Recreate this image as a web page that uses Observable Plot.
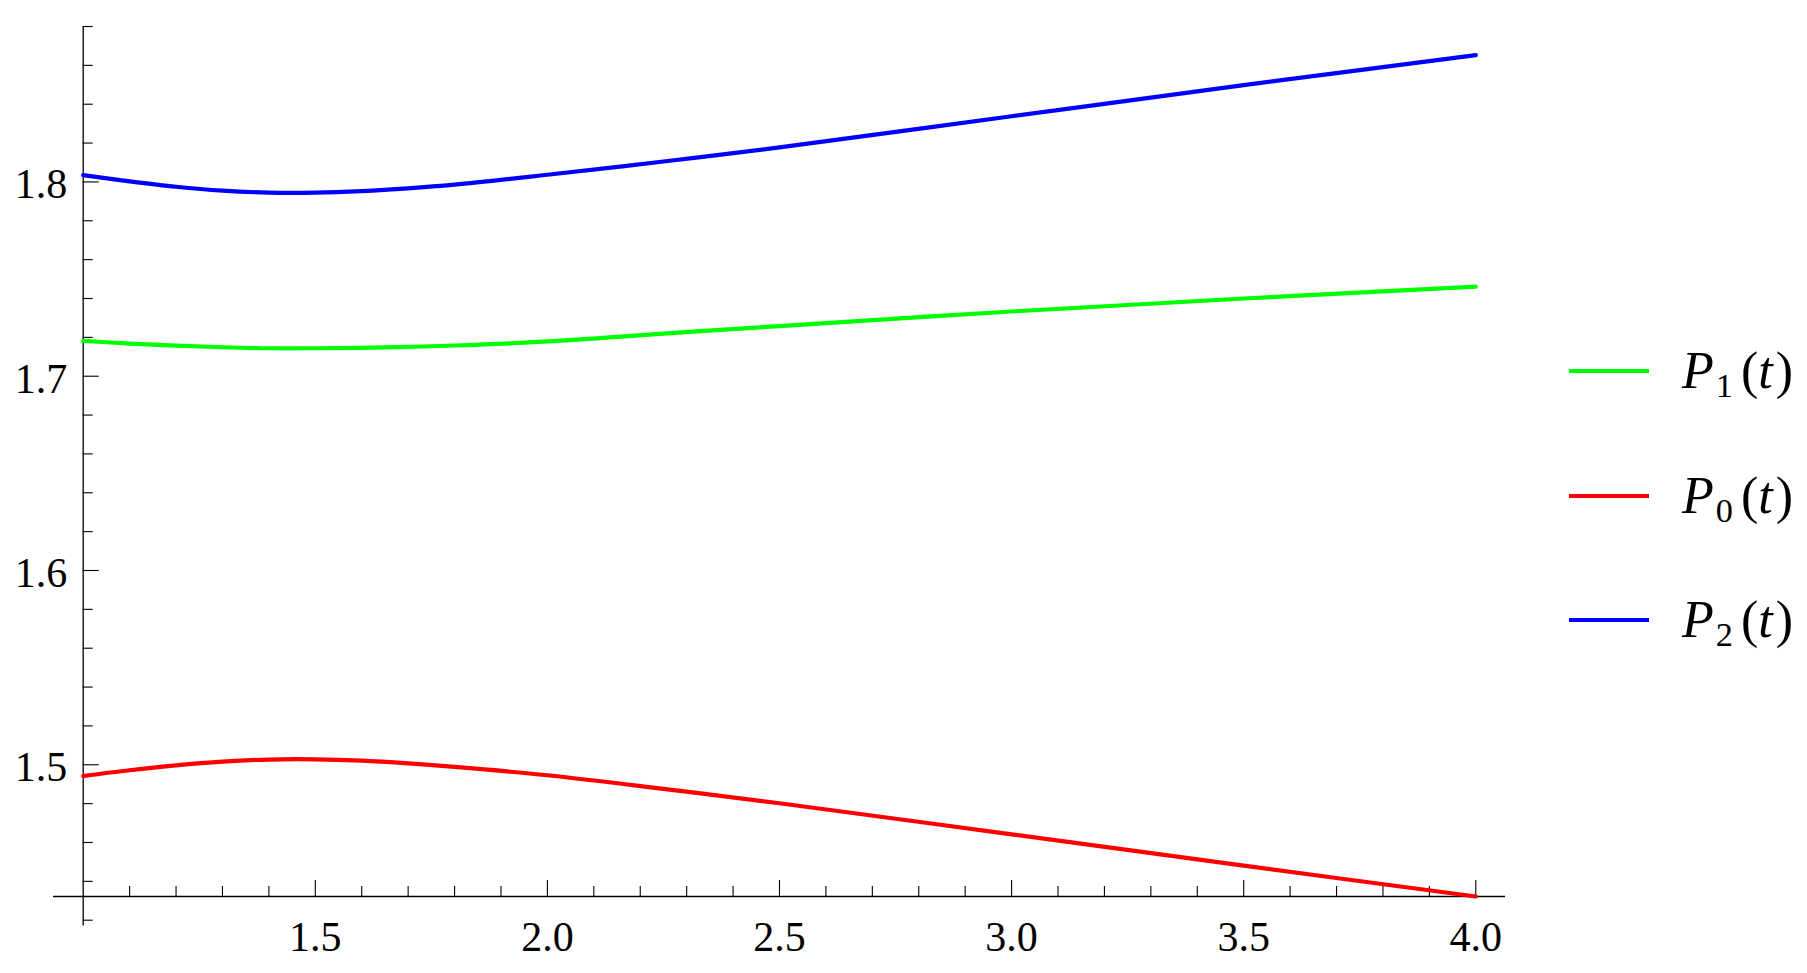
<!DOCTYPE html>
<html>
<head>
<meta charset="utf-8">
<script src="https://cdn.jsdelivr.net/npm/d3@7"></script>
<script src="https://cdn.jsdelivr.net/npm/@observablehq/plot@0.6"></script>
<style>
  html, body { margin: 0; padding: 0; background: #fff; overflow: hidden; width: 1807px; height: 973px; }
  #wrap { position: relative; width: 1807px; height: 973px; }
  .leg { position: absolute; left: 1569px; height: 60px; display: flex; align-items: center;
         font-family: "Liberation Serif", "DejaVu Serif", serif; font-size: 52px; line-height: 1; color: #000; }
  .leg .swatch { width: 80px; height: 4px; }
  .leg .txt { margin-left: 33px; white-space: nowrap; }
  .leg i { font-style: italic; }
  .leg .sub { position: relative; top: 0.26em; font-size: 0.66em; margin-left: 2px; }
  .leg .lp { margin-left: 8px; }
  .leg .rp { margin-left: 3px; }
</style>
</head>
<body>
<div id="wrap"></div>
<script>
// ---- data ----
const tValues  = [1.0, 1.1, 1.2, 1.3, 1.4, 1.5, 1.6, 1.7, 1.8, 2.0, 2.25, 2.5, 3.0, 3.5, 4.0];
const p0Values = [1.4942, 1.4972, 1.4997, 1.5016, 1.5027, 1.5028, 1.5021, 1.5007, 1.4989, 1.4946, 1.4876, 1.4802, 1.4642, 1.4481, 1.4322];
const p1Values = [1.7182, 1.7168, 1.7157, 1.7149, 1.7144, 1.7144, 1.7146, 1.7151, 1.7158, 1.7179, 1.7219, 1.7258, 1.7333, 1.7400, 1.7461];
const p2Values = [1.8035, 1.8003, 1.7975, 1.7955, 1.7945, 1.7945, 1.7953, 1.7967, 1.7986, 1.8037, 1.8105, 1.8178, 1.8338, 1.8498, 1.8653];

const seriesNames  = ["P1", "P0", "P2"];          // legend order
const seriesColors = { P0: "#ff0000", P1: "#00ff00", P2: "#0000ff" };
const seriesSubs   = { P0: "0", P1: "1", P2: "2" };

const xMajorTicks = [1.5, 2.0, 2.5, 3.0, 3.5, 4.0];
const xMinorTicks = [1.1, 1.2, 1.3, 1.4, 1.6, 1.7, 1.8, 1.9, 2.1, 2.2, 2.3, 2.4, 2.6, 2.7, 2.8, 2.9,
                     3.1, 3.2, 3.3, 3.4, 3.6, 3.7, 3.8, 3.9];
const yMajorTicks = [1.5, 1.6, 1.7, 1.8];
const yMinorTicks = [1.42, 1.44, 1.46, 1.48, 1.52, 1.54, 1.56, 1.58, 1.62, 1.64, 1.66, 1.68,
                     1.72, 1.74, 1.76, 1.78, 1.82, 1.84, 1.86, 1.88];

// axis geometry (data units)
const xOrigin = 1.0;            // where the vertical axis sits
const yOrigin = 1.4322;         // where the horizontal axis sits
const xAxisExtent = [0.936, 4.064];
const yAxisExtent = [1.417, 1.88];

// ---- build table ----
const rows = [];
tValues.forEach((t, i) => {
  rows.push({ t, v: p0Values[i], s: "P0" });
  rows.push({ t, v: p1Values[i], s: "P1" });
  rows.push({ t, v: p2Values[i], s: "P2" });
});

const font = "Liberation Serif";

const chart = Plot.plot({
  width: 1807,
  height: 973,
  marginLeft: 82.7,
  marginRight: 331.7,
  marginTop: 26,
  marginBottom: 77,
  style: { background: "white" },
  x: { domain: [1, 4], axis: null },
  y: { domain: [yOrigin, yAxisExtent[1]], axis: null },
  marks: [
    // axes lines
    Plot.ruleY([yOrigin], { x1: xAxisExtent[0], x2: xAxisExtent[1], stroke: "black", strokeWidth: 1.3 }),
    Plot.ruleX([xOrigin], { y1: yAxisExtent[0], y2: yAxisExtent[1], stroke: "black", strokeWidth: 1.3 }),
    // x ticks (pointing up)
    Plot.ruleX(xMinorTicks, { x: d => d, y1: yOrigin, y2: yOrigin, insetTop: -10, stroke: "black", strokeWidth: 1.1 }),
    Plot.ruleX(xMajorTicks, { x: d => d, y1: yOrigin, y2: yOrigin, insetTop: -16, stroke: "black", strokeWidth: 1.1 }),
    // y ticks (pointing right)
    Plot.ruleY(yMinorTicks, { y: d => d, x1: xOrigin, x2: xOrigin, insetRight: -10, stroke: "black", strokeWidth: 1.1 }),
    Plot.ruleY(yMajorTicks, { y: d => d, x1: xOrigin, x2: xOrigin, insetRight: -16, stroke: "black", strokeWidth: 1.1 }),
    // tick labels
    Plot.text(xMajorTicks, { x: d => d, y: yOrigin, text: d => d.toFixed(1), dy: 41, lineAnchor: "middle",
                             fontFamily: font, fontSize: 42, fill: "black" }),
    Plot.text(yMajorTicks, { x: xOrigin, y: d => d, text: d => d.toFixed(1), dx: -16, dy: 3, textAnchor: "end",
                             lineAnchor: "middle", fontFamily: font, fontSize: 42, fill: "black" }),
    // curves
    Plot.line(rows, { x: "t", y: "v", z: "s", stroke: d => seriesColors[d.s], strokeWidth: 4.2, curve: "catmull-rom" })
  ]
});

const wrap = document.getElementById("wrap");
wrap.appendChild(chart);

// legend (HTML, to the right of the plot)
const legendCenters = [371, 496, 620];
seriesNames.forEach((name, i) => {
  const div = document.createElement("div");
  div.className = "leg";
  div.style.top = (legendCenters[i] - 30) + "px";
  div.innerHTML = `<div class="swatch" style="background:${seriesColors[name]}"></div>` +
    `<span class="txt"><i>P</i><span class="sub">${seriesSubs[name]}</span><span class="lp">(</span><i>t</i><span class="rp">)</span></span>`;
  wrap.appendChild(div);
});
</script>
</body>
</html>
